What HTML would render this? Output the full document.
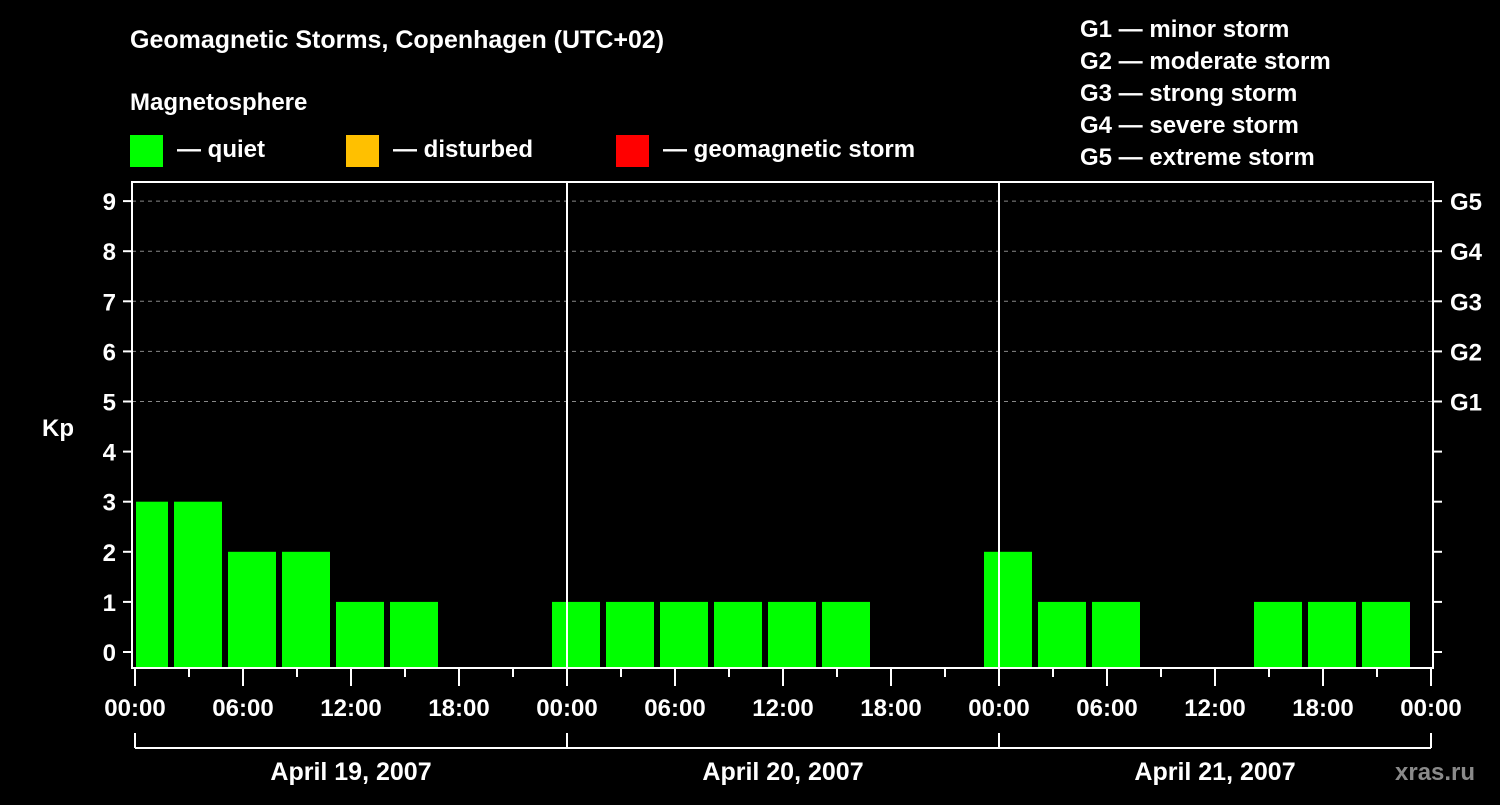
<!DOCTYPE html>
<html><head><meta charset="utf-8"><style>
html,body{margin:0;padding:0;background:#000;}
svg text{font-family:"Liberation Sans",Arial,sans-serif;font-weight:bold;fill:#fff;}
</style></head><body>
<svg id="chart" width="1500" height="800" viewBox="0 0 1500 800" xmlns="http://www.w3.org/2000/svg">
<rect width="1500" height="800" fill="#000"/>
<text x="130" y="48" font-size="25">Geomagnetic Storms, Copenhagen (UTC+02)</text>
<text x="130" y="110" font-size="24">Magnetosphere</text>
<g><rect x="130" y="135" width="33" height="32" fill="#00ff00"/><text x="177" y="157" font-size="24">— quiet</text></g>
<g><rect x="346" y="135" width="33" height="32" fill="#ffc000"/><text x="393" y="157" font-size="24">— disturbed</text></g>
<g><rect x="616" y="135" width="33" height="32" fill="#ff0000"/><text x="663" y="157" font-size="24">— geomagnetic storm</text></g>
<g font-size="24">
<text x="1080" y="37">G1 — minor storm</text>
<text x="1080" y="69">G2 — moderate storm</text>
<text x="1080" y="101">G3 — strong storm</text>
<text x="1080" y="133">G4 — severe storm</text>
<text x="1080" y="165">G5 — extreme storm</text>
</g>
<g id="plot"></g>
<text x="1395" y="780" font-size="24" fill="#888" style="fill:#8a8a8a">xras.ru</text>
</svg>
<script>
const kpValues = [3,3,2,2,1,1,0,0, 1,1,1,1,1,1,0,0, 2,1,1,0,0,1,1,1];
const yTicks = [0,1,2,3,4,5,6,7,8,9];
const gLabels = {5:"G1",6:"G2",7:"G3",8:"G4",9:"G5"};
const xTickLabels = ["00:00","06:00","12:00","18:00","00:00","06:00","12:00","18:00","00:00","06:00","12:00","18:00","00:00"];
const dayLabels = ["April 19, 2007","April 20, 2007","April 21, 2007"];

const NS="http://www.w3.org/2000/svg";
const g=document.getElementById('plot');
const X0=135, HOURPX=18, L=132, R=1433, T=182, B=668;
const x = h => X0 + h*HOURPX;
const y = v => 652 - v*50.1;
function mk(tag, attrs, parent){const e=document.createElementNS(NS,tag);for(const k in attrs)e.setAttribute(k,attrs[k]);(parent||g).appendChild(e);return e;}

// grid
yTicks.forEach(v=>{ if(v>=5){ const l=mk('line',{x1:L,x2:R,y1:y(v),y2:y(v),stroke:'#888','stroke-dasharray':'4,4','stroke-width':1});

}});
// bars
const clip=mk('clipPath',{id:'pc'}); mk('rect',{x:L+4,y:T,width:R-L-5,height:B-T},clip);
kpValues.forEach((v,i)=>{ if(v<=0) return;
 const b=mk('rect',{x:x(i*3)-15,y:y(v),width:48,height:B-y(v),fill:v>=5?'#ff0000':(v>=4?'#ffc000':'#00ff00'),'clip-path':'url(#pc)'});
 
 });
// day separators
[24,48].forEach(h=>{const l=mk('line',{x1:x(h),x2:x(h),y1:T,y2:B,stroke:'#fff','stroke-width':2});

});
// frame
const f=mk('rect',{x:L,y:T,width:R-L,height:B-T,fill:'none',stroke:'#fff','stroke-width':2});


// y ticks
yTicks.forEach(v=>{
 mk('line',{x1:123,x2:L,y1:y(v),y2:y(v),stroke:'#fff','stroke-width':2});
 mk('line',{x1:R,x2:1442,y1:y(v),y2:y(v),stroke:'#fff','stroke-width':2});
 const t=mk('text',{x:116,y:y(v)+9,'font-size':24,'text-anchor':'end'}); t.textContent=v;
 
 
 if(gLabels[v]){const r=mk('text',{x:1450,y:y(v)+9,'font-size':24}); r.textContent=gLabels[v];
 
 }
});
const kp=mk('text',{x:42,y:436,'font-size':24}); kp.textContent='Kp';


// x ticks
for(let h=0;h<=72;h+=3){ const major=h%6===0;
 mk('line',{x1:x(h),x2:x(h),y1:B,y2:major?686:677,stroke:'#fff','stroke-width':2});}
xTickLabels.forEach((s,i)=>{const t=mk('text',{x:x(i*6),y:716,'font-size':24,'text-anchor':'middle'}); t.textContent=s;
 
 });
// day brackets
mk('line',{x1:x(0),x2:x(72),y1:748,y2:748,stroke:'#fff','stroke-width':2});
[0,24,48,72].forEach(h=>mk('line',{x1:x(h),x2:x(h),y1:733,y2:748,stroke:'#fff','stroke-width':2}));
dayLabels.forEach((s,i)=>{const t=mk('text',{x:x(i*24+12),y:780,'font-size':25,'text-anchor':'middle'}); t.textContent=s;
 
 });
</script>
</body></html>
